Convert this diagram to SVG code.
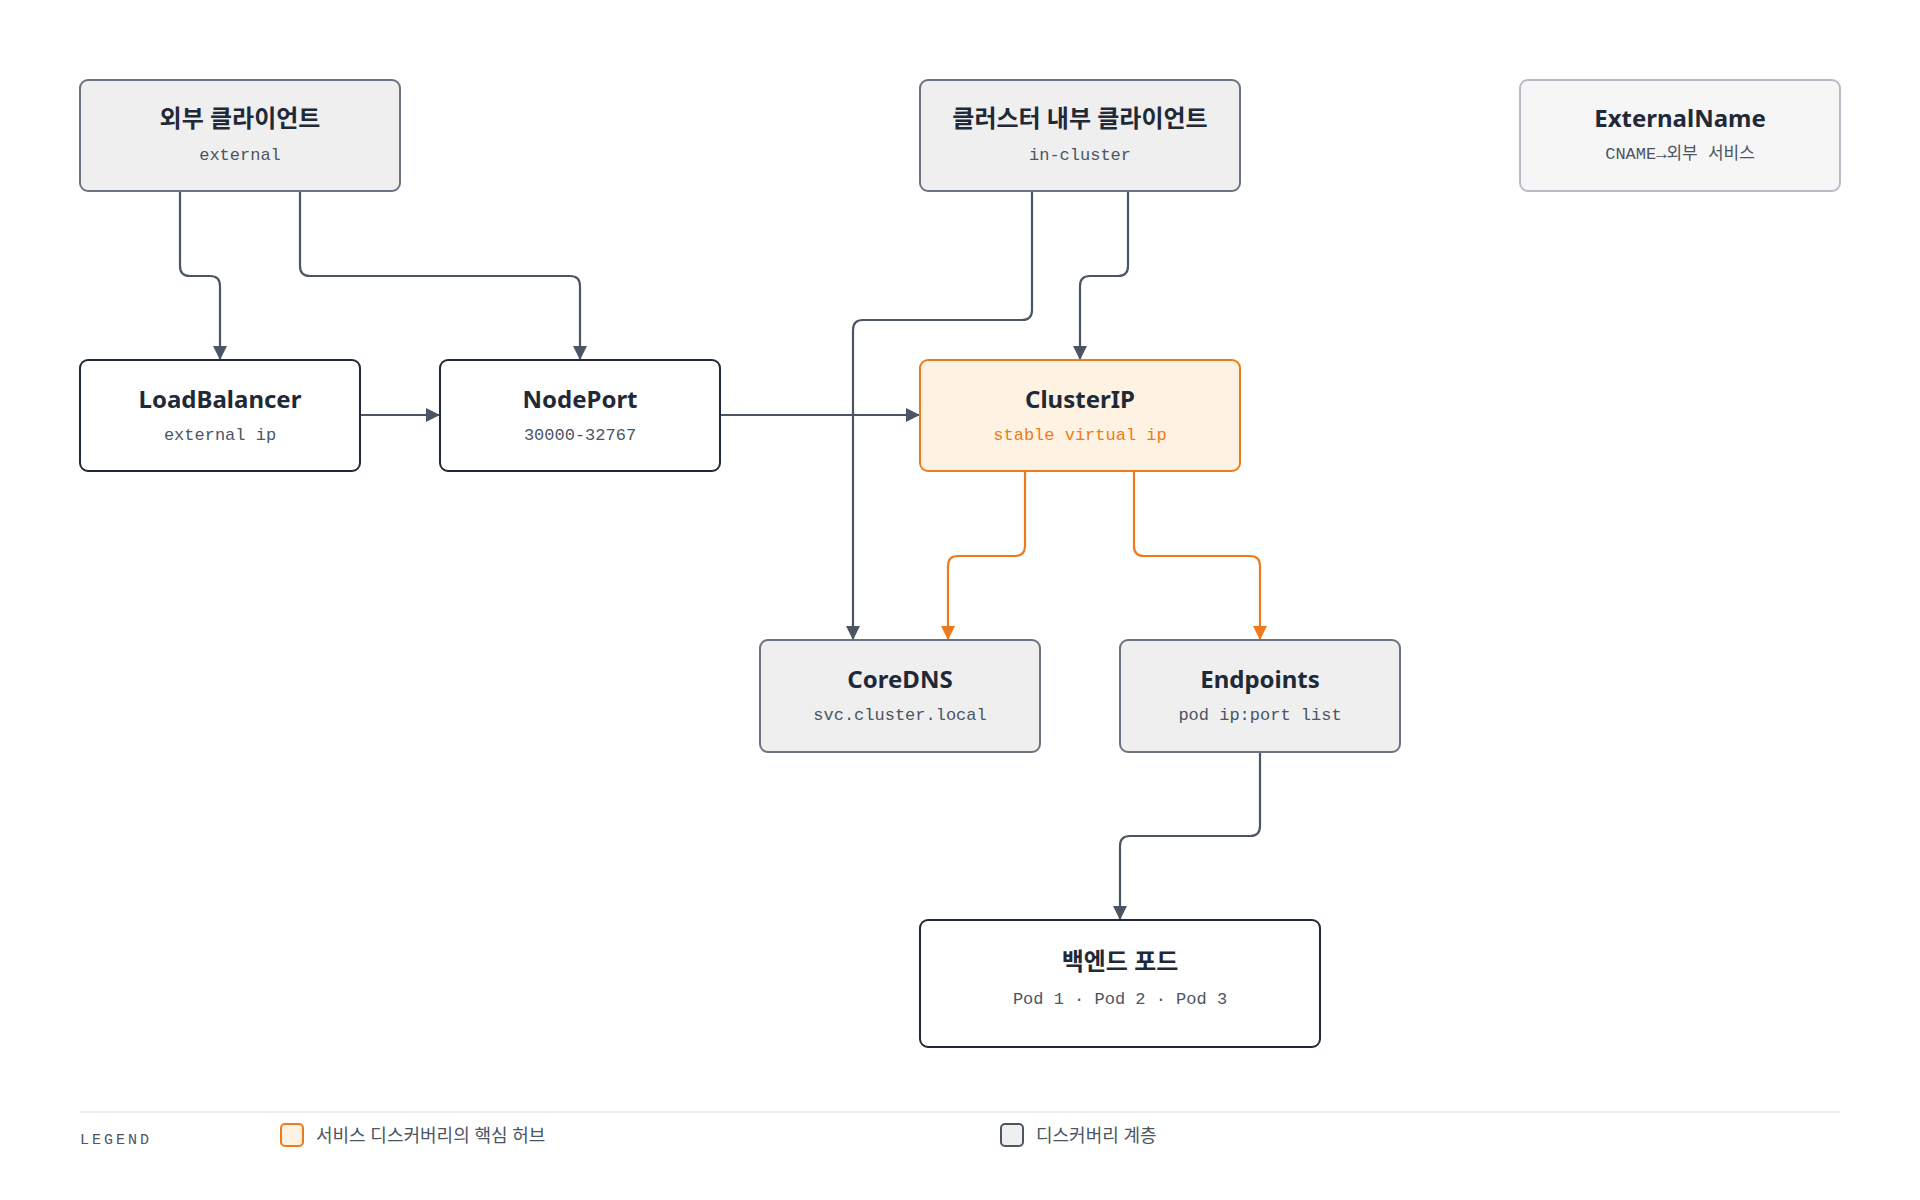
<svg xmlns="http://www.w3.org/2000/svg" width="1920" height="1200" viewBox="0 0 1920 1200">
<style>
.t{font-family:"Noto Sans","Noto Sans CJK KR",sans-serif;font-weight:700;font-size:24px;fill:#1f2937;text-anchor:middle}
.s{font-family:"Liberation Mono","Noto Sans CJK KR",monospace;font-size:17px;fill:#4b5563;text-anchor:middle}
.g{fill:#efeff0;stroke:#6b7280;stroke-width:2}
.w{fill:#fff;stroke:#1f2937;stroke-width:2}
.o{fill:#fef3e2;stroke:#f07a1a;stroke-width:2}
.e{fill:#f6f6f7;stroke:#b8bcc4;stroke-width:2}
.c{fill:none;stroke:#4b5563;stroke-width:2.2}
.co{fill:none;stroke:#f07a1a;stroke-width:2.2}
.l{font-family:"Noto Sans","Noto Sans CJK KR",sans-serif;font-size:18px;fill:#4b5563}
</style>
<defs>
<marker id="a" viewBox="0 0 10 10" refX="10" refY="5" markerWidth="16" markerHeight="14" orient="auto-start-reverse" markerUnits="userSpaceOnUse"><path d="M0 0L10 5L0 10Z" fill="#4b5563"/></marker>
<marker id="ao" viewBox="0 0 10 10" refX="10" refY="5" markerWidth="16" markerHeight="14" orient="auto-start-reverse" markerUnits="userSpaceOnUse"><path d="M0 0L10 5L0 10Z" fill="#f07a1a"/></marker>
</defs>
<rect width="1920" height="1200" fill="#fff"/>
<g id="connectors">
<path class="c" marker-end="url(#a)" d="M180 191V266Q180 276 190 276H210Q220 276 220 286V360"/>
<path class="c" marker-end="url(#a)" d="M300 191V266Q300 276 310 276H570Q580 276 580 286V360"/>
<path class="c" marker-end="url(#a)" d="M360 415H440"/>
<path class="c" marker-end="url(#a)" d="M720 415H920"/>
<path class="c" marker-end="url(#a)" d="M1032 191V310Q1032 320 1022 320H863Q853 320 853 330V640"/>
<path class="c" marker-end="url(#a)" d="M1128 191V266Q1128 276 1118 276H1090Q1080 276 1080 286V360"/>
<path class="co" marker-end="url(#ao)" d="M1025 471V546Q1025 556 1015 556H958Q948 556 948 566V640"/>
<path class="co" marker-end="url(#ao)" d="M1134 471V546Q1134 556 1144 556H1250Q1260 556 1260 566V640"/>
<path class="c" marker-end="url(#a)" d="M1260 752V826Q1260 836 1250 836H1130Q1120 836 1120 846V920"/>
</g>
<g id="ext-client"><rect class="g" x="80" y="80" width="320" height="111" rx="8"/><text class="t" x="240" y="127">외부 클라이언트</text><text class="s" x="240" y="160">external</text></g>
<g id="in-client"><rect class="g" x="920" y="80" width="320" height="111" rx="8"/><text class="t" x="1080" y="127">클러스터 내부 클라이언트</text><text class="s" x="1080" y="160">in-cluster</text></g>
<g id="externalname"><rect class="e" x="1520" y="80" width="320" height="111" rx="8"/><text class="t" x="1680" y="127">ExternalName</text><text class="s" x="1680" y="159">CNAME→외부 서비스</text></g>
<g id="loadbalancer"><rect class="w" x="80" y="360" width="280" height="111" rx="8"/><text class="t" x="220" y="408">LoadBalancer</text><text class="s" x="220" y="440">external ip</text></g>
<g id="nodeport"><rect class="w" x="440" y="360" width="280" height="111" rx="8"/><text class="t" x="580" y="408">NodePort</text><text class="s" x="580" y="440">30000-32767</text></g>
<g id="clusterip"><rect class="o" x="920" y="360" width="320" height="111" rx="8"/><text class="t" x="1080" y="408">ClusterIP</text><text class="s" x="1080" y="440" style="fill:#f07a1a">stable virtual ip</text></g>
<g id="coredns"><rect class="g" x="760" y="640" width="280" height="112" rx="8"/><text class="t" x="900" y="688">CoreDNS</text><text class="s" x="900" y="720">svc.cluster.local</text></g>
<g id="endpoints"><rect class="g" x="1120" y="640" width="280" height="112" rx="8"/><text class="t" x="1260" y="688">Endpoints</text><text class="s" x="1260" y="720">pod ip:port list</text></g>
<g id="backend"><rect class="w" x="920" y="920" width="400" height="127" rx="8"/><text class="t" x="1120" y="970">백엔드 포드</text><text class="s" x="1120" y="1004">Pod 1 · Pod 2 · Pod 3</text></g>
<g id="legend">
<line x1="80" y1="1112" x2="1840" y2="1112" stroke="#e5e7eb" stroke-width="1.5"/>
<text x="80" y="1144" style="font-family:'Liberation Mono',monospace;font-size:15px;fill:#4b5563;letter-spacing:3px">LEGEND</text>
<rect x="281" y="1124" width="22" height="22" rx="4" fill="#fef3e2" stroke="#f07a1a" stroke-width="2"/>
<text class="l" x="316" y="1142">서비스 디스커버리의 핵심 허브</text>
<rect x="1001" y="1124" width="22" height="22" rx="4" fill="#efeff0" stroke="#4b5563" stroke-width="2"/>
<text class="l" x="1036" y="1142">디스커버리 계층</text>
</g>
</svg>
